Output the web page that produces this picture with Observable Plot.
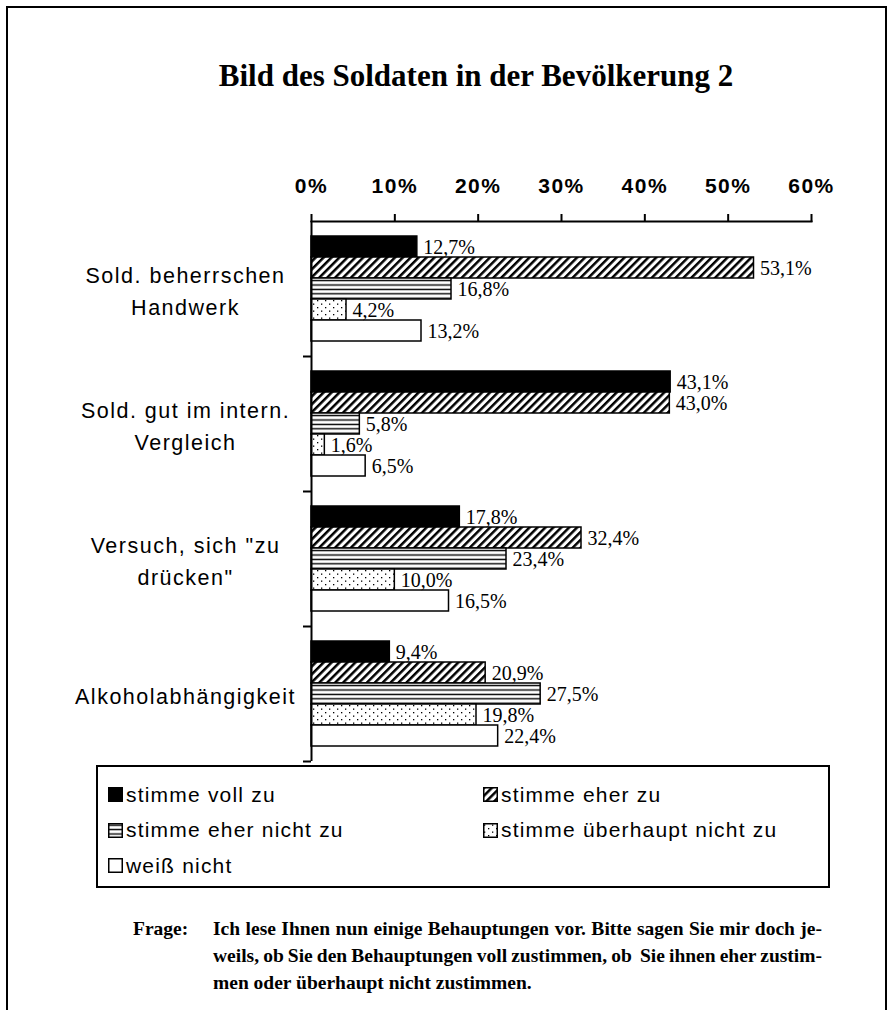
<!DOCTYPE html>
<html>
<head>
<meta charset="utf-8">
<script src="https://cdn.jsdelivr.net/npm/d3@7"></script>
<script src="https://cdn.jsdelivr.net/npm/@observablehq/plot@0.6"></script>
<style>
  html, body { margin: 0; padding: 0; background: #fff; }
  #page { position: relative; width: 890px; height: 1010px; overflow: hidden; background: #fff; }
  #border { position: absolute; left: 6px; top: 6px; width: 881px; height: 1020px; box-sizing: border-box;
            border-left: 2px solid #000; border-top: 2px solid #000; border-right: 2px solid #000; }
  #title { position: absolute; left: 476px; top: 58px; transform: translateX(-50%); white-space: nowrap;
           font-family: "Liberation Serif", "Times New Roman", serif; font-weight: bold; font-size: 31px; color: #000; }
  #chart { position: absolute; left: 0; top: 120px; }
  #chart svg { overflow: visible; }
  #chart svg text { letter-spacing: 1.5px; }
  #chart svg [font-family^="Liberation Serif"] text, #chart svg text[font-family^="Liberation Serif"] { letter-spacing: 0; }
  #legend { position: absolute; left: 96px; top: 765px; width: 734px; height: 123px; box-sizing: border-box;
            border: 2px solid #000; padding: 10px 0 0 10px; display: grid; grid-template-columns: 375px 340px;
            grid-auto-rows: 35.5px; font-family: "Liberation Sans", Arial, sans-serif; font-size: 21px; letter-spacing: 1.2px; color: #000; }
  .item { display: flex; align-items: center; white-space: nowrap; }
  .item svg { margin-right: 3px; flex: none; }
  #frage { position: absolute; left: 133px; top: 915px; font-family: "Liberation Serif", "Times New Roman", serif;
           font-weight: bold; font-size: 19.5px; line-height: 27px; }
  #caption { position: absolute; left: 213px; top: 915px; width: 609px; font-family: "Liberation Serif", "Times New Roman", serif;
             font-weight: bold; font-size: 19.5px; line-height: 27px; }
  #caption .j { text-align: justify; text-align-last: justify; white-space: nowrap; word-spacing: -2.5px; }
  #caption .j.last { text-align-last: left; word-spacing: 0; }
</style>
</head>
<body>
<svg width="0" height="0" style="position:absolute">
  <defs>
    <pattern id="hatch" patternUnits="userSpaceOnUse" width="5.6" height="5.6" patternTransform="rotate(45)">
      <rect width="5.6" height="5.6" fill="#fff"/>
      <rect width="2.5" height="5.6" fill="#000"/>
    </pattern>
    <pattern id="hstripe" patternUnits="userSpaceOnUse" width="8" height="4.4">
      <rect width="8" height="4.4" fill="#fff"/>
      <rect y="1.5" width="8" height="1.4" fill="#000"/>
    </pattern>
    <pattern id="dots" patternUnits="userSpaceOnUse" width="8" height="7">
      <rect width="8" height="7" fill="#fff"/>
      <rect x="1" y="1.5" width="1.3" height="1.3" fill="#000"/>
      <rect x="5" y="5" width="1.3" height="1.3" fill="#000"/>
    </pattern>
  </defs>
</svg>
<div id="page">
  <div id="border"></div>
  <div id="title">Bild des Soldaten in der Bevölkerung 2</div>
  <div id="chart"></div>
  <div id="legend"></div>
  <div id="frage">Frage:</div>
  <div id="caption">
    <div class="j">Ich lese Ihnen nun einige Behauptungen vor. Bitte sagen Sie mir doch je-</div>
    <div class="j">weils, ob Sie den Behauptungen voll zustimmen, ob&nbsp; Sie ihnen eher zustim-</div>
    <div class="j last">men oder überhaupt nicht zustimmen.</div>
  </div>
</div>
<script>
// ---- data ----
const categories = [
  "Sold. beherrschen\nHandwerk",
  "Sold. gut im intern.\nVergleich",
  "Versuch, sich \"zu\ndrücken\"",
  "Alkoholabhängigkeit"
];
const series = ["stimme voll zu", "stimme eher zu", "stimme eher nicht zu", "stimme überhaupt nicht zu", "weiß nicht"];
const stimmeVollZu        = [12.7, 43.1, 17.8, 9.4];
const stimmeEherZu        = [53.1, 43.0, 32.4, 20.9];
const stimmeEherNichtZu   = [16.8, 5.8, 23.4, 27.5];
const stimmeUeberhauptNicht = [4.2, 1.6, 10.0, 19.8];
const weissNicht          = [13.2, 6.5, 16.5, 22.4];
const xTicks = [0, 10, 20, 30, 40, 50, 60];
const fills = ["#000", "url(#hatch)", "url(#hstripe)", "url(#dots)", "#fff"];

const seriesValues = [stimmeVollZu, stimmeEherZu, stimmeEherNichtZu, stimmeUeberhauptNicht, weissNicht];
const data = [];
categories.forEach((c, i) => {
  series.forEach((s, j) => data.push({cat: c, series: s, value: seriesValues[j][i]}));
});
const fmt = v => v.toFixed(1).replace(".", ",") + "%";

// ---- layout ----
const H = 660, mTop = 101, mBottom = 19;
const fyStep = (H - mTop - mBottom) / categories.length;
const sans = "Liberation Sans, Arial, sans-serif";
const serif = "Liberation Serif, Times New Roman, serif";

const chart = Plot.plot({
  width: 890,
  height: H,
  marginTop: mTop,
  marginBottom: mBottom,
  marginLeft: 311,
  marginRight: 79,
  x: {domain: [0, 60], axis: null},
  y: {domain: series, axis: null, paddingInner: 0, paddingOuter: 0.65},
  fy: {domain: categories, padding: 0, axis: null},
  color: {type: "ordinal", domain: series, range: fills},
  marks: [
    Plot.barX(data, {fy: "cat", y: "series", x: "value", fill: "series", stroke: "#000", strokeWidth: 1.5}),
    Plot.text(data, {fy: "cat", y: "series", x: "value", text: d => fmt(d.value), textAnchor: "start", dx: 6, dy: 1,
      fontFamily: serif, fontSize: 20, fill: "#000"}),
    Plot.ruleX([0], {stroke: "#000", strokeWidth: 2}),
    Plot.frame({anchor: "top", facetAnchor: "top", stroke: "#000", strokeWidth: 2}),
    Plot.axisX(xTicks, {anchor: "top", tickSize: 8, tickPadding: 21, tickFormat: d => d + "%", fontSize: 21,
      fontWeight: "bold", fontFamily: sans, stroke: "#000", strokeWidth: 2, label: null}),
    Plot.axisFy({anchor: "left", tickSize: 8, tickFormat: () => "", dy: fyStep / 2, stroke: "#000", strokeWidth: 2, label: null}),
    Plot.text(categories, {fy: d => d, frameAnchor: "left", dx: -126, textAnchor: "middle", lineHeight: 1.45,
      fontSize: 21.5, fontFamily: sans, fill: "#000"})
  ]
});
document.getElementById("chart").appendChild(chart);

// ---- legend ----
const legend = document.getElementById("legend");
series.forEach((s, i) => {
  const item = document.createElement("div");
  item.className = "item";
  item.innerHTML = `<svg width="15" height="15"><rect x="0.75" y="0.75" width="13.5" height="13.5" fill="${fills[i]}" stroke="#000" stroke-width="1.5"/></svg><span>${s}</span>`;
  legend.appendChild(item);
});
</script>
</body>
</html>
